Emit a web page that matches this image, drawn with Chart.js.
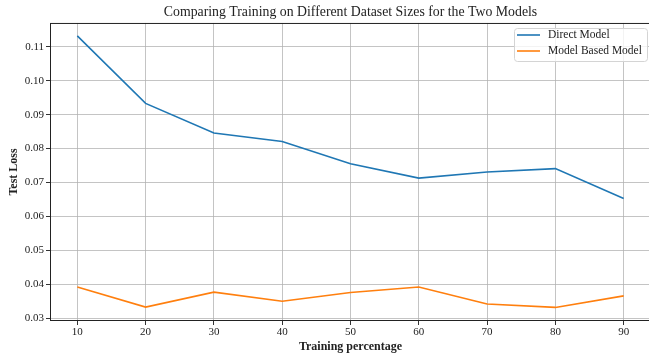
<!DOCTYPE html>
<html>
<head>
<meta charset="utf-8">
<script src="https://cdn.jsdelivr.net/npm/chart.js@4.4.1/dist/chart.umd.min.js"></script>
<style>
  html, body { margin: 0; padding: 0; overflow: hidden; background: #fff; }
  #wrap { position: absolute; left: 0; top: 0; width: 656px; height: 356px; }
</style>
</head>
<body>
<div id="wrap"><canvas id="mychart"></canvas></div>
<script>
const percentages = [10, 20, 30, 40, 50, 60, 70, 80, 90];
const directLoss = [0.1132, 0.0933, 0.0846, 0.0821, 0.0755, 0.0713, 0.0731, 0.0741, 0.0653];
const modelBasedLoss = [0.0392, 0.0333, 0.0377, 0.0350, 0.0376, 0.0392, 0.0342, 0.0332, 0.0366];
const xTicks = [10, 20, 30, 40, 50, 60, 70, 80, 90];
const yTicks = [0.03, 0.04, 0.05, 0.06, 0.07, 0.08, 0.09, 0.10, 0.11];

const serif = "'Liberation Serif', 'DejaVu Serif', serif";
const gridColor = 'rgba(176,176,176,0.75)';

// frame + legend drawn like matplotlib
const boxPlugin = {
    id: 'boxPlugin',
    afterDraw(chart) {
        const c = chart.ctx;
        const a = chart.chartArea;
        c.save();
        c.strokeStyle = '#222';
        c.lineWidth = 1;
        c.strokeRect(a.left + 0.5, a.top + 0.5, a.right - a.left - 1, a.bottom - a.top - 1);

        // legend
        const x = 514, y = 28, w = 133, h = 33;
        c.fillStyle = 'rgba(255,255,255,0.8)';
        c.strokeStyle = '#d4d4d4';
        c.beginPath();
        c.roundRect(x + 0.5, y + 0.5, w, h, 3);
        c.fill();
        c.stroke();
        c.font = '11.5px ' + serif;
        c.textBaseline = 'middle';
        chart.data.datasets.forEach((ds, i) => {
            const ly = 35 + i * 16;
            c.strokeStyle = ds.borderColor;
            c.lineWidth = 1.6;
            c.beginPath();
            c.moveTo(517, ly);
            c.lineTo(540, ly);
            c.stroke();
            c.fillStyle = '#222';
            c.fillText(ds.label, 548, ly);
        });
        c.restore();
    }
};

const ctx = document.getElementById('mychart');
function charts() {
    new Chart(ctx, {
        type: 'line',
        data: {
            datasets: [{
                label: 'Direct Model',
                data: percentages.map((p, i) => ({x: p, y: directLoss[i]})),
                borderColor: '#1f77b4',
                borderWidth: 1.6,
                pointRadius: 0,
                tension: 0
            }, {
                label: 'Model Based Model',
                data: percentages.map((p, i) => ({x: p, y: modelBasedLoss[i]})),
                borderColor: '#ff7f0e',
                borderWidth: 1.6,
                pointRadius: 0,
                tension: 0
            }]
        },
        options: {
            responsive: true,
            maintainAspectRatio: false,
            animation: false,
            devicePixelRatio: 1,
            layout: { padding: { left: 0, right: 5, top: 0, bottom: 0 } },
            plugins: {
                legend: { display: false },
                tooltip: { enabled: false },
                title: {
                    display: true,
                    fullSize: false,
                    text: 'Comparing Training on Different Dataset Sizes for the Two Models',
                    color: '#222',
                    font: { family: serif, size: 13.8, weight: 'normal' },
                    padding: { top: 3.7, bottom: 2.7 }
                }
            },
            scales: {
                x: {
                    type: 'linear',
                    min: 6,
                    max: 94,
                    afterBuildTicks: (axis) => { axis.ticks = xTicks.map(v => ({value: v})); },
                    afterFit: (axis) => { axis.height = 35; },
                    ticks: {
                        color: '#222',
                        font: { family: serif, size: 11 },
                        padding: 1,
                        maxRotation: 0,
                        callback: (v) => String(v)
                    },
                    grid: { color: gridColor, lineWidth: 1, tickLength: 4, tickColor: '#333' },
                    border: { display: false },
                    title: {
                        display: true,
                        text: 'Training percentage',
                        color: '#222',
                        font: { family: serif, size: 12, weight: 'bold' },
                        padding: { top: 0, bottom: 1.8 }
                    }
                },
                y: {
                    type: 'linear',
                    min: 0.0292,
                    max: 0.117,
                    afterBuildTicks: (axis) => { axis.ticks = yTicks.map(v => ({value: v})); },
                    afterFit: (axis) => { axis.width = 50; },
                    ticks: {
                        color: '#222',
                        font: { family: serif, size: 11 },
                        padding: 2,
                        callback: (v) => v.toFixed(2)
                    },
                    grid: { color: gridColor, lineWidth: 1, tickLength: 4, tickColor: '#333' },
                    border: { display: false },
                    title: {
                        display: true,
                        text: 'Test Loss',
                        color: '#222',
                        font: { family: serif, size: 12, weight: 'bold' },
                        padding: { top: 6.8, bottom: 0 }
                    }
                }
            }
        },
        plugins: [boxPlugin]
    });
}

charts()
</script>
</body>
</html>
